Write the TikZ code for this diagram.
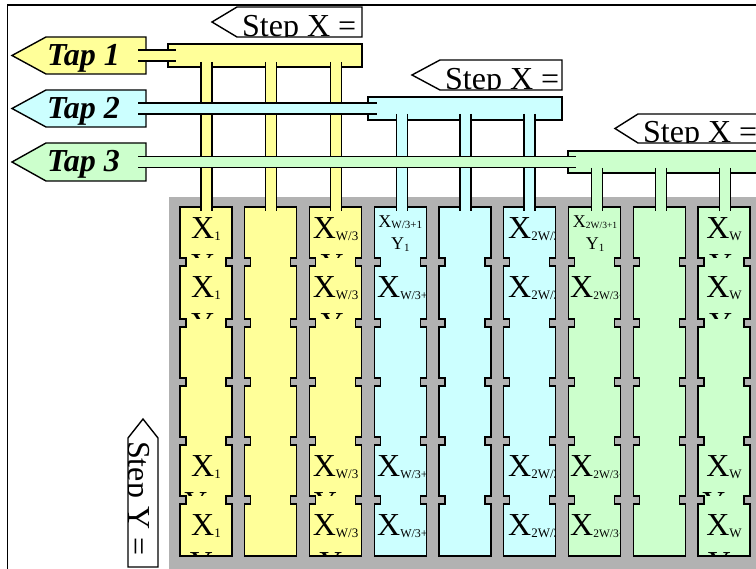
\documentclass[tikz,border=0pt]{standalone}
\usepackage{fontspec}
\setmainfont{Liberation Serif}
\definecolor{cy}{HTML}{FFFF99}
\definecolor{cc}{HTML}{CCFFFF}
\definecolor{cg}{HTML}{CCFFCC}
\definecolor{gr}{HTML}{B2B2B2}
\tikzset{
  ln/.style={line width=1.4pt},
  bigt/.style={font=\fontsize{32}{35}\selectfont, inner sep=0pt},
  smt/.style={font=\fontsize{18}{20}\selectfont, inner sep=0pt},
  tapt/.style={font=\fontsize{32}{35}\selectfont\bfseries\itshape, inner sep=0pt, anchor=base west},
}
\newcommand\sbs[2]{\raisebox{-1.5pt}{\fontsize{#1}{#1}\selectfont #2}}
% cell clip: #1 left, #2 top, #3 bottom, #4 contents
\newcommand\cellclip[4]{\begin{scope}\clip (#1+0.7,#2) rectangle (#1+51.3,#3); #4 \end{scope}}
% step X label: #1 name, #2 tip x, #3 body left, #4 right, #5 top, #6 bottom
\newcommand\stepxlabel[6]{%
  \fill[white] (#2,{(#5+#6)/2}) -- (#3,#5) -- (#4,#5) -- (#4,#6) -- (#3,#6) -- cycle;
  \begin{scope}
    \clip (#2,{(#5+#6)/2}) -- (#3,#5) -- (#4,#5) -- (#4,#6) -- (#3,#6) -- cycle;
    \node[bigt, anchor=base west] (#1) at (#3+5,#6-0.5) {Step X =};
  \end{scope}
  \draw[ln] (#2,{(#5+#6)/2}) -- (#3,#5) -- (#4,#5) -- (#4,#6) -- (#3,#6) -- cycle;}
% vertical drop: #1 x centre, #2 y1, #3 y2, #4 colour
\newcommand\dropv[4]{%
  \fill[#4] (#1-5.5,#2) rectangle (#1+5.5,#3);
  \draw[ln] (#1-5.5,#2) -- (#1-5.5,#3) (#1+5.5,#2) -- (#1+5.5,#3);}
% horizontal tube: #1 x1, #2 x2, #3 y centre, #4 colour
\newcommand\tubeh[4]{%
  \fill[#4] (#1,#3-5.5) rectangle (#2,#3+5.5);
  \draw[ln] (#1,#3-5.5) -- (#2,#3-5.5) (#1,#3+5.5) -- (#2,#3+5.5);}
\begin{document}
\begin{tikzpicture}[x=1pt,y=-1pt,line join=miter]
\clip (0,0) rectangle (756,569);
\fill[white] (0,0) rectangle (756,569);
% frame
\draw[ln] (7.5,5) rectangle (820,620);
% grey array background
\fill[gr] (169,197) rectangle (820,620);
% columns
\foreach \i/\c in {0/cy,1/cy,2/cy,3/cc,4/cc,5/cc,6/cg,7/cg,8/cg}{
  \pgfmathsetmacro\cL{180+64.75*\i}
  \pgfmathsetmacro\cR{\cL+52}
  \filldraw[fill=\c, ln] (\cL,207) -- (\cR,207)
    \foreach \n in {262,323,382,441,500}{ -- (\cR,\n-4) -- (\cR-6,\n-4) -- (\cR-6,\n+4) -- (\cR,\n+4)}
    -- (\cR,556) -- (\cL,556)
    \foreach \n in {500,441,382,323,262}{ -- (\cL,\n+4) -- (\cL+6,\n+4) -- (\cL+6,\n-4) -- (\cL,\n-4)}
    -- cycle;
}
% cell texts
\foreach \t/\b/\s [count=\r] in {207/258/1,266/319/2,445/496/{H-1},504/556/H}{
  \cellclip{180}{\t}{\b}{
    \node[bigt, anchor=base] (xa\r) at (206,\t+32) {X\sbs{13}{1}};
    \node[bigt, anchor=base] (ya\r) at (206,\t+69) {Y\sbs{13}{\s}};}
  \cellclip{309.5}{\t}{\b}{
    \node[bigt, anchor=base] (xc\r) at (335.5,\t+32) {X\sbs{13}{W/3}};
    \node[bigt, anchor=base] (yc\r) at (335.5,\t+69) {Y\sbs{13}{\s}};}
  \cellclip{503.75}{\t}{\b}{
    \node[bigt, anchor=base west] (xf\r) at (508,\t+32) {X\sbs{13}{2W/3}};}
  \cellclip{698}{\t}{\b}{
    \node[bigt, anchor=base] (xi\r) at (724,\t+32) {X\sbs{13}{W}};
    \node[bigt, anchor=base] (yi\r) at (724,\t+69) {Y\sbs{13}{\s}};}
}
\foreach \t/\b [count=\r] in {266/319,445/496,504/556}{
  \cellclip{374.25}{\t}{\b}{
    \node[bigt, anchor=base west] (xd\r) at (377,\t+32) {X\sbs{12}{W/3+1}};}
  \cellclip{568.5}{\t}{\b}{
    \node[bigt, anchor=base west] (xg\r) at (570,\t+32) {X\sbs{11.5}{2W/3+1}};}
}
\cellclip{374.25}{207}{258}{
  \node[smt, anchor=base] (xd0) at (400.25,227.5) {X\sbs{11}{W/3+1}};
  \node[smt, anchor=base] (yd0) at (400.25,250) {Y\sbs{11}{1}};}
\cellclip{568.5}{207}{258}{
  \node[smt, anchor=base] (xg0) at (595,227.5) {X\sbs{9.5}{2W/3+1}};
  \node[smt, anchor=base] (yg0) at (595,250) {Y\sbs{11}{1}};}
% taps
\filldraw[fill=cy, ln] (12,55.5) -- (46,37) -- (146,37) -- (146,74) -- (46,74) -- cycle;
\node[tapt] (tap1) at (47,66) {Tap 1};
\filldraw[fill=cc, ln] (12,108.5) -- (46,90) -- (146,90) -- (146,127) -- (46,127) -- cycle;
\node[tapt] (tap2) at (47,119) {Tap 2};
\filldraw[fill=cg, ln] (12,162) -- (46,143) -- (146,143) -- (146,181) -- (46,181) -- cycle;
\node[tapt] (tap3) at (47,172) {Tap 3};
% buses
\filldraw[fill=cy, ln] (168,44) rectangle (362,67);
\filldraw[fill=cc, ln] (368,97) rectangle (562,120);
\filldraw[fill=cg, ln] (568,151) rectangle (820,173);
% step labels
\stepxlabel{sx1}{212}{237}{362}{7}{37}
\stepxlabel{sx2}{412}{440}{562}{60}{90}
\stepxlabel{sx3}{615}{638}{820}{114}{143}
\fill[white] (143,419) -- (158,438) -- (158,567) -- (128,567) -- (128,438) -- cycle;
\begin{scope}
  \clip (143,419) -- (158,438) -- (158,567) -- (128,567) -- (128,438) -- cycle;
  \node[bigt, rotate=-90, anchor=base west] (sy) at (128.5,441) {Step Y =};
\end{scope}
\draw[ln] (143,419) -- (158,438) -- (158,567) -- (128,567) -- (128,438) -- cycle;
% drops
\foreach \x in {206.5,271,336}{\dropv{\x}{62}{211}{cy}}
\foreach \x in {402,465.5,529.5}{\dropv{\x}{114}{211}{cc}}
\foreach \x in {597,661,725}{\dropv{\x}{168}{211}{cg}}
% tubes from taps to buses
\tubeh{138}{176}{55.5}{cy}
\tubeh{138}{377}{108.5}{cc}
\tubeh{138}{576}{162}{cg}
\end{tikzpicture}
\end{document}
